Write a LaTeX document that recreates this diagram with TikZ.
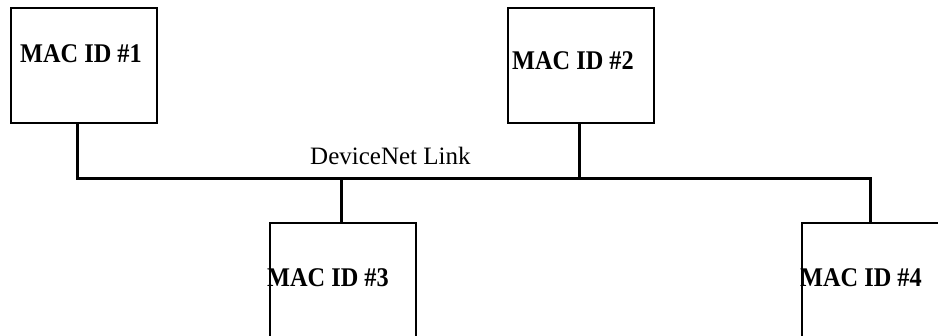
\documentclass[tikz,border=0pt]{standalone}
\usepackage{fontspec}
\setmainfont{Liberation Serif}
\newfontfamily\macfont[FakeStretch=0.9]{Liberation Serif}
\usetikzlibrary{positioning}

\tikzset{
  macbox/.style={draw, line width=2pt, minimum width=146pt, minimum height=115pt, inner sep=0, anchor=north west},
  lowbox/.style={macbox, minimum height=130pt},
  mactext/.style={font=\macfont\bfseries\fontsize{27}{29}\selectfont, anchor=base west, inner sep=0},
  wire/.style={line width=3pt}
}

\begin{document}
\begin{tikzpicture}[x=1pt,y=-1pt]

\useasboundingbox (0,0) rectangle (938,336);
\clip (0,0) rectangle (938,336);

\node[macbox] (b1) at (10,7) {};
\node[macbox] (b2) at (507,7) {};
\node[lowbox] (b3) at (269,222) {};
\node[lowbox] (b4) at (801,222) {};

\node[mactext] (l1) at (20,63) {MAC ID \#1};
\node[mactext] (l2) at (512,70) {MAC ID \#2};
\node[mactext] (l3) at (267,287) {MAC ID \#3};
\node[mactext] (l4) at (800,287) {MAC ID \#4};

\node[anchor=base west, inner sep=0, font=\fontsize{25}{27}\selectfont] (lk) at (310,165) {DeviceNet Link};

\coordinate (j1) at (77,179);
\coordinate (j2) at (579,179);
\coordinate (j3) at (341,179);
\coordinate (j4) at (870,179);

\draw[wire] (b1.south -| j1) -- (j1) -- (j4) -- (b4.north -| j4);
\draw[wire] (b2.south -| j2) -- (j2);
\draw[wire] (j3) -- (b3.north -| j3);

\end{tikzpicture}
\end{document}
